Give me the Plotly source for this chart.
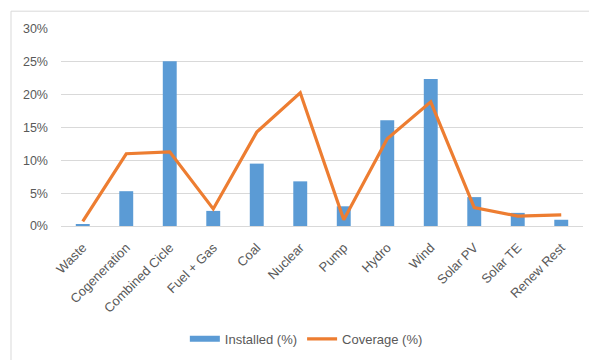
import plotly.graph_objects as go

categories = ["Waste", "Cogeneration", "Combined Cicle", "Fuel + Gas", "Coal", "Nuclear",
              "Pump", "Hydro", "Wind", "Solar PV", "Solar TE", "Renew Rest"]
installed = [0.3, 5.3, 25.1, 2.3, 9.5, 6.8, 3.0, 16.1, 22.4, 4.4, 2.0, 0.95]
coverage = [0.7, 11.0, 11.3, 2.6, 14.3, 20.3, 0.95, 13.3, 18.9, 2.8, 1.5, 1.7]
y_ticks = [0, 5, 10, 15, 20, 25, 30]

BLUE, ORANGE = "#5B9BD5", "#ED7D31"
W, H = 589, 360
L, R, T, B = 61, 6, 29, 132
pw, ph = W - L - R, H - T - B

GREY = "#595959"
font = dict(family="Liberation Sans", size=12.5, color=GREY)
xfont = dict(family="Liberation Sans", size=13, color=GREY)
lfont = dict(family="Liberation Sans", size=13, color=GREY)

fig = go.Figure()
fig.add_trace(go.Bar(
    x=categories, y=[v / 100 for v in installed], name="Installed (%)",
    marker=dict(color=BLUE, line=dict(width=0)), showlegend=False,
    legendgroup="inst",
))
# wide flat legend key for the bars
fig.add_trace(go.Scatter(
    x=[None], y=[None], name="Installed (%)", mode="lines",
    line=dict(color=BLUE, width=6), legendgroup="inst", hoverinfo="skip",
))
fig.add_trace(go.Scatter(
    x=categories, y=[v / 100 for v in coverage], name="Coverage (%)",
    mode="lines", line=dict(color=ORANGE, width=3.2),
))

# chart-area border (left and top edges visible)
bx0 = (11 - L) / pw
by1 = 1 + (T - 11) / ph
fig.add_shape(type="line", xref="paper", yref="paper", x0=bx0, x1=bx0, y0=-2, y1=by1,
              line=dict(color="#D9D9D9", width=1))
fig.add_shape(type="line", xref="paper", yref="paper", x0=bx0, x1=1.2, y0=by1, y1=by1,
              line=dict(color="#D9D9D9", width=1))

fig.update_layout(
    width=W, height=H,
    margin=dict(l=L, r=R, t=T, b=B),
    paper_bgcolor="white", plot_bgcolor="white",
    font=font,
    bargap=0.68,
    showlegend=True,
    legend=dict(orientation="h", x=0.47, xanchor="center", y=(228 - 342) / ph,
                yanchor="middle", font=lfont, itemwidth=30, tracegroupgap=0),
    xaxis=dict(tickangle=-45, showgrid=False, showline=True, linecolor="#D9D9D9",
               ticks="", tickfont=xfont, ticklabelstandoff=8),
    yaxis=dict(range=[0, 0.30], tickvals=[v / 100 for v in y_ticks],
               ticktext=[f"{v}%" for v in y_ticks], showgrid=True, gridcolor="#D9D9D9",
               gridwidth=1, zeroline=False, ticks="", ticklabelstandoff=12,
               tickfont=font),
)

fig.write_html("out.html")
